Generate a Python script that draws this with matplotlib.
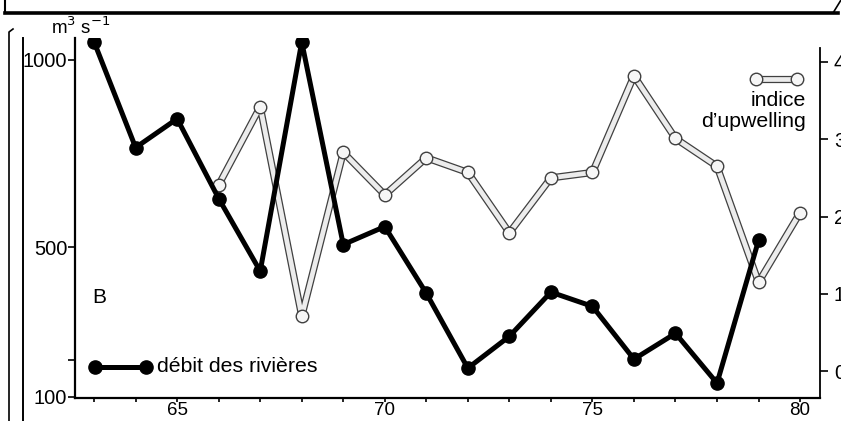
import numpy as np
import matplotlib
matplotlib.use('Agg')
import matplotlib.pyplot as plt
import matplotlib.patheffects as pe
from matplotlib.lines import Line2D

plt.rcParams['font.family'] = ['Liberation Sans', 'DejaVu Sans']

# données
annees_debit = [63, 64, 65, 66, 67, 68, 69, 70, 71, 72, 73, 74, 75, 76, 77, 78, 79]
debit = [1048, 766, 843, 630, 436, 1048, 507, 555, 377, 177, 262, 380, 342, 201, 270, 137, 518]

annees_upw = [66, 67, 68, 69, 70, 71, 72, 73, 74, 75, 76, 77, 78, 79, 80]
upwelling = [2.41, 3.42, 0.71, 2.83, 2.28, 2.76, 2.57, 1.79, 2.50, 2.57, 3.82, 3.01, 2.65, 1.15, 2.05]

x_ticks = [65, 70, 75, 80]
y_left_ticks = [100, 200, 500, 1000]
y_left_labels = ['100', '', '500', '1000']
y_right_ticks = [0, 1, 2, 3, 4]

W, H = 841, 421
fig = plt.figure(figsize=(W / 100, H / 100), dpi=100)
ax = fig.add_axes([75 / W, 1 - 398 / H, (820 - 75) / W, (398 - 38) / H])
ax2 = ax.twinx()

contour = [pe.Stroke(linewidth=5.2, foreground='#404040'), pe.Normal()]

# indice d'upwelling (trait double, cercles vides)
ax2.plot(annees_upw, upwelling, color='#ececec', lw=3.4, path_effects=contour)
ax2.plot(annees_upw, upwelling, 'o', ms=9, mfc='#f6f6f6', mec='#404040', mew=1.0)

# débit des rivières
ax.plot(annees_debit, debit, color='black', lw=3.6, marker='o', ms=9.5,
        mfc='black', mec='black')
ax.set_zorder(ax2.get_zorder() + 1)
ax.patch.set_visible(False)

# axes
ax.set_xlim(62.54, 80.48)
ax.set_ylim(97.3, 1058.6)
ax2.set_ylim(-0.348, 4.31)

ax.set_xticks(x_ticks)
ax.set_xticks(range(63, 81), minor=True)
ax.set_yticks(y_left_ticks)
ax.set_yticklabels(y_left_labels)
ax2.set_yticks(y_right_ticks)

for a in (ax, ax2):
    a.spines['top'].set_visible(False)
ax.spines['right'].set_visible(False)
for s in ('left', 'bottom'):
    ax.spines[s].set_linewidth(1.6)
ax2.spines['right'].set_linewidth(1.3)
ax2.spines['left'].set_visible(False)
ax2.spines['bottom'].set_visible(False)
ax2.spines['right'].set_bounds(-0.35, 4.18)

ax.tick_params(axis='x', which='both', direction='out', length=3, width=1.2,
               pad=0, labelsize=13.5)
ax.tick_params(axis='y', direction='out', length=5, width=1.2, pad=0.5, labelsize=14.5)
ax2.tick_params(axis='y', direction='out', length=6, width=1.2, pad=4, labelsize=14.5)

# textes
fig.text(51 / W, 1 - 34 / H, 'm$^3$ s$^{-1}$', fontsize=13.5, ha='left', va='baseline')
ax.text(0.033, 0.28, 'B', transform=ax.transAxes, fontsize=15, ha='center', va='center')

# légende débit
fig.add_artist(Line2D([95 / W, 146 / W], [1 - 367 / H] * 2, transform=fig.transFigure,
                      color='black', lw=3.6, marker='o', ms=9.5))
fig.text(157 / W, 1 - 367 / H, 'débit des rivières', fontsize=15.3, ha='left', va='center')

# légende upwelling
fig.add_artist(Line2D([756 / W, 797 / W], [1 - 79 / H] * 2, transform=fig.transFigure,
                      color='#ececec', lw=3.4, path_effects=contour))
fig.add_artist(Line2D([756 / W, 797 / W], [1 - 79 / H] * 2, transform=fig.transFigure,
                      ls='none', marker='o', ms=9, mfc='#f6f6f6', mec='#404040', mew=1.0))
fig.text(806 / W, 1 - 101 / H, 'indice', fontsize=15.3, ha='right', va='center')
fig.text(806 / W, 1 - 121 / H, 'd\u2019upwelling', fontsize=15.3, ha='right', va='center')

# cadre de la planche
def trait(xs, ys, lw):
    fig.add_artist(Line2D([x / W for x in xs], [1 - y / H for y in ys],
                          transform=fig.transFigure, color='black', lw=lw))

trait([5, 838], [13, 13], 2.6)
trait([5, 5], [0, 13], 1.5)
trait([23, 23], [38, 421], 1.4)
trait([13, 9, 9], [29, 32, 421], 1.2)
trait([833, 841], [13, 0], 1.2)

fig.savefig('out.png', dpi=100)
